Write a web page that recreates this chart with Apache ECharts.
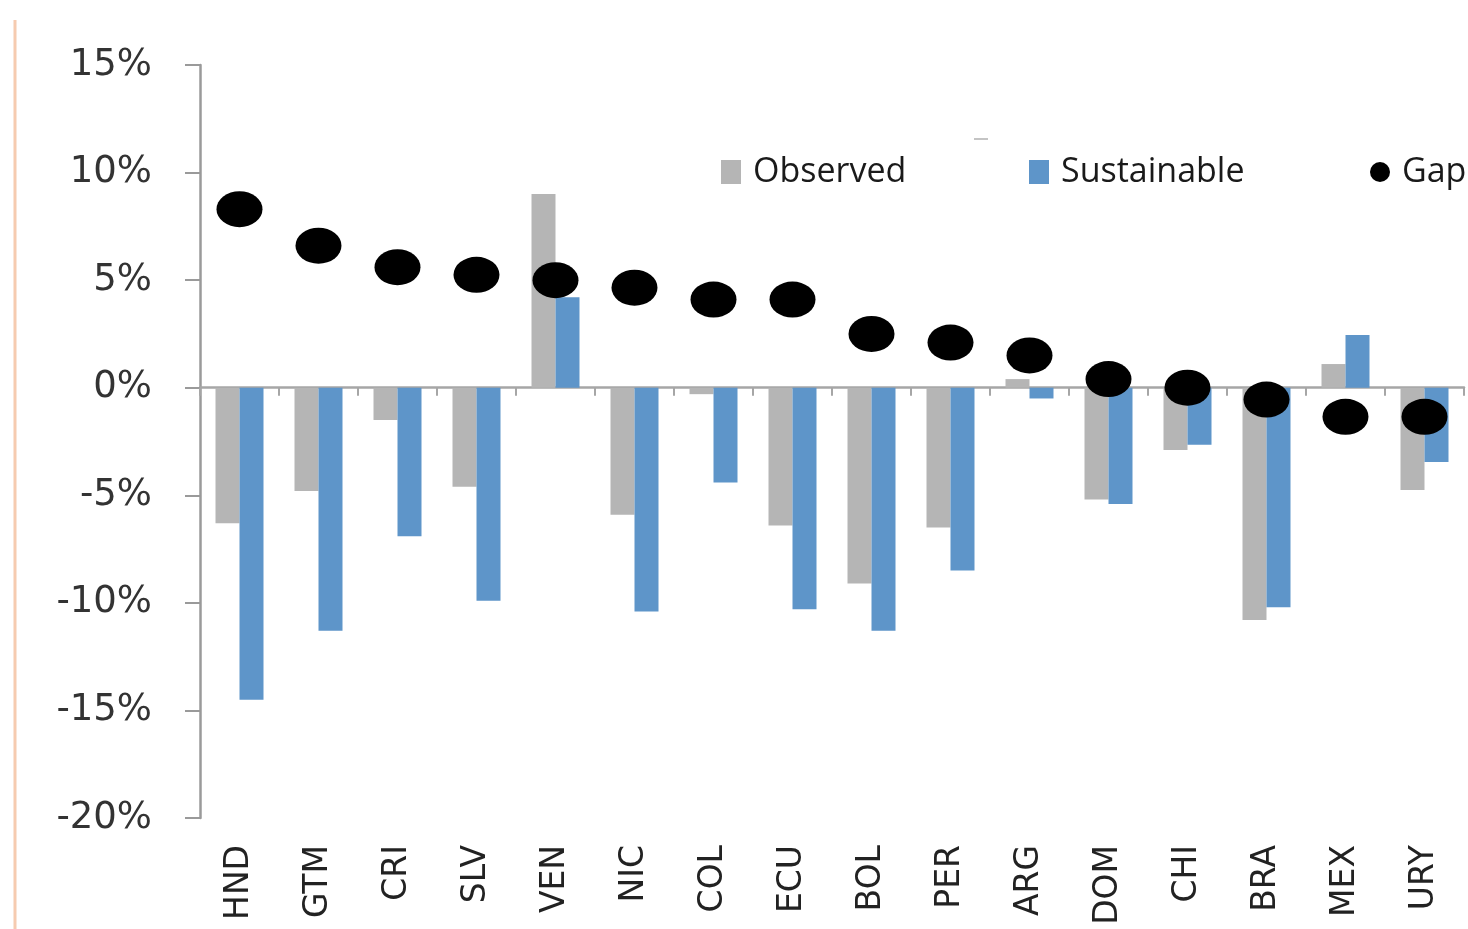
<!DOCTYPE html>
<html>
<head>
<meta charset="utf-8">
<style>
  html, body { margin: 0; padding: 0; background: #ffffff; }
  #chart { width: 1468px; height: 929px; }
</style>
<script src="https://cdn.jsdelivr.net/npm/echarts@6/dist/echarts.min.js"></script>
</head>
<body>
<div id="chart"></div>
<script>
// ---- Data (percent) ----
var countries = ['HND','GTM','CRI','SLV','VEN','NIC','COL','ECU','BOL','PER','ARG','DOM','CHI','BRA','MEX','URY'];
var observed    = [-6.3, -4.8, -1.5, -4.6, 9.0, -5.9, -0.3, -6.4, -9.1, -6.5, 0.4, -5.2, -2.9, -10.8, 1.1, -4.75];
var sustainable = [-14.5, -11.3, -6.9, -9.9, 4.2, -10.4, -4.4, -10.3, -11.3, -8.5, -0.5, -5.4, -2.65, -10.2, 2.45, -3.45];
var gap         = [8.3, 6.6, 5.6, 5.25, 5.0, 4.65, 4.1, 4.1, 2.5, 2.1, 1.5, 0.4, 0.0, -0.55, -1.35, -1.35];
var yTicks = { min: -20, max: 15, interval: 5 };

var chart = echarts.init(document.getElementById('chart'), null, { renderer: 'canvas' });

var legendText = { fontFamily: 'Open Sans', fontSize: 34, color: '#1a1a1a', padding: [0, 0, 0, 7] };

var option = {
  backgroundColor: '#ffffff',
  animation: false,
  grid: { left: 200, right: 4, top: 65, bottom: 111, containLabel: false },
  legend: [
    { data: ['Observed'], left: 721, top: 155, itemWidth: 20, itemHeight: 24,
      icon: 'rect', textStyle: legendText, padding: 0 },
    { data: ['Sustainable'], left: 1029, top: 155, itemWidth: 20, itemHeight: 24,
      icon: 'rect', textStyle: legendText, padding: 0 },
    { data: ['Gap'], left: 1370, top: 155, itemWidth: 20, itemHeight: 20,
      icon: 'circle', textStyle: legendText, padding: 0 }
  ],
  xAxis: [
    {
      type: 'category',
      data: countries,
      position: 'bottom',
      axisLine: { show: true, onZero: true, lineStyle: { color: '#a6a6a6', width: 2.5 } },
      axisTick: { show: true, length: 8, lineStyle: { color: '#a6a6a6', width: 2 } },
      axisLabel: { show: false },
      splitLine: { show: false }
    },
    {
      type: 'category',
      data: countries,
      position: 'bottom',
      axisLine: { show: false, onZero: false },
      axisTick: { show: false },
      axisLabel: {
        show: true, rotate: 90, margin: 27,
        fontFamily: 'DejaVu Sans', fontSize: 33, color: '#222222'
      },
      splitLine: { show: false }
    }
  ],
  yAxis: {
    type: 'value',
    min: yTicks.min, max: yTicks.max, interval: yTicks.interval,
    axisLine: { show: true, lineStyle: { color: '#9a9a9a', width: 2.5 } },
    axisTick: { show: true, length: 15, lineStyle: { color: '#9a9a9a', width: 2 } },
    splitLine: { show: false },
    axisLabel: {
      margin: 48,
      fontFamily: 'DejaVu Sans', fontSize: 37, color: '#333333',
      formatter: function (v) { return v + '%'; }
    }
  },
  series: [
    {
      name: 'Observed', type: 'bar', xAxisIndex: 0, data: observed,
      barWidth: 24, barGap: '0%',
      itemStyle: { color: '#b5b5b5' }
    },
    {
      name: 'Sustainable', type: 'bar', xAxisIndex: 0, data: sustainable,
      barWidth: 24, barGap: '0%',
      itemStyle: { color: '#5e95c9' }
    },
    {
      name: 'Gap', type: 'scatter', xAxisIndex: 0, data: gap,
      symbol: 'circle', symbolSize: [46, 36], z: 5,
      itemStyle: { color: '#000000', opacity: 1 }
    }
  ],
  graphic: [
    { type: 'line', shape: { x1: 15, y1: 20, x2: 15, y2: 929 },
      style: { stroke: '#f6cbb0', lineWidth: 3 } },
    { type: 'line', shape: { x1: 974, y1: 139, x2: 988, y2: 139 },
      style: { stroke: '#b0b0b0', lineWidth: 1.5 } }
  ]
};
chart.setOption(option);
</script>
</body>
</html>
